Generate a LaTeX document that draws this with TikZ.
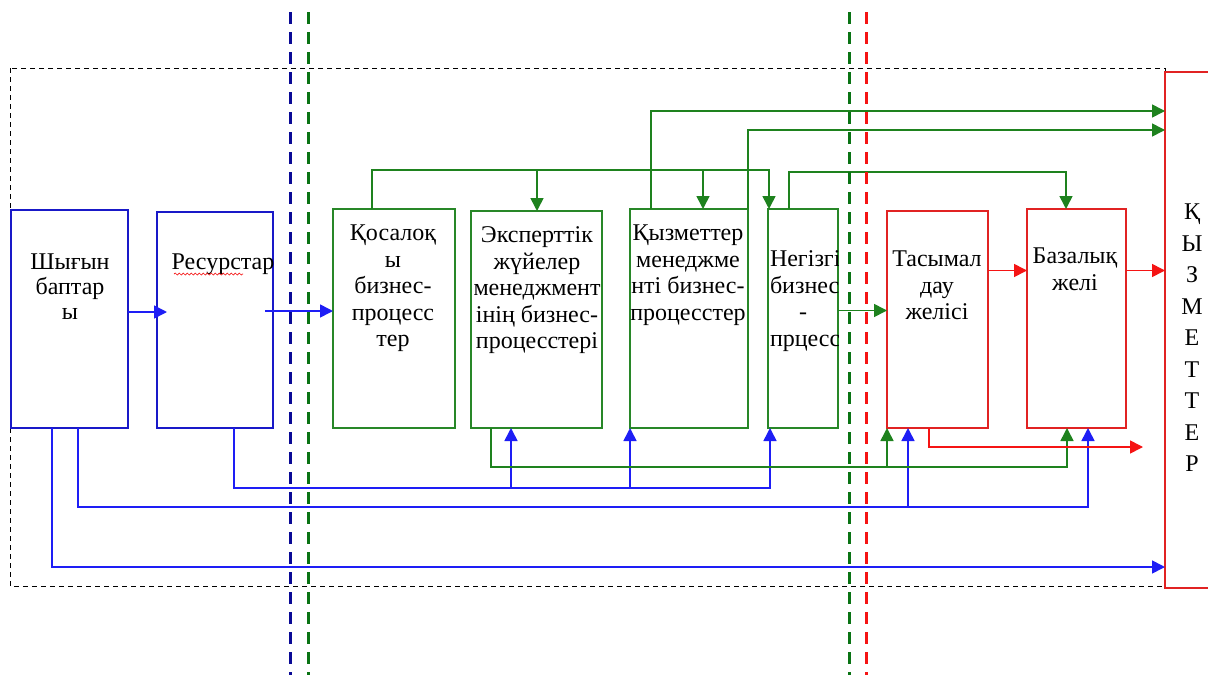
\documentclass[tikz,border=0pt]{standalone}
\usepackage{fontspec}
\setmainfont{Liberation Serif}
\usetikzlibrary{arrows.meta,decorations.pathmorphing,calc}
\definecolor{cBlueBox}{RGB}{25,25,200}
\definecolor{cBlue}{RGB}{30,30,245}
\definecolor{cGreenBox}{RGB}{40,135,40}
\definecolor{cGreen}{RGB}{30,130,30}
\definecolor{cRedBox}{RGB}{225,35,35}
\definecolor{cRed}{RGB}{245,20,20}
\definecolor{cDBlue}{RGB}{10,10,150}
\definecolor{cDGreen}{RGB}{10,115,20}
\begin{document}
\begin{tikzpicture}[x=1pt,y=-1pt,
  box/.style={draw, line width=1.5pt, inner sep=0pt, outer sep=0pt, fill=white},
  bbox/.style={box, draw=cBlueBox},
  gbox/.style={box, draw=cGreenBox},
  rbox/.style={box, draw=cRedBox},
  txt/.style={inner sep=0pt, outer sep=0pt, align=center, anchor=north, font=\fontsize{24}{26.5}\selectfont},
  conn/.style={line width=1.6pt, -{Triangle[length=13pt,width=13pt]}},
  bl/.style={conn, draw=cBlue, color=cBlue},
  gl/.style={conn, draw=cGreen, color=cGreen},
  rl/.style={conn, draw=cRed, color=cRed},
  vdash/.style={line width=3pt, dash pattern=on 12pt off 8pt}
]
\useasboundingbox (0,0) rectangle (1208,675);
\fill[white] (0,0) rectangle (1208,675);

% outer dashed frame
\draw[black, line width=1pt, dash pattern=on 5pt off 4pt] (10,68) rectangle (1165,586);

% boxes
\node[bbox, minimum width=117pt, minimum height=218pt] (shy) at (69.5,319) {};
\node[bbox, minimum width=116pt, minimum height=216pt] (res) at (215,320) {};
\node[gbox, minimum width=122pt, minimum height=219pt] (kos) at (394,318.5) {};
\node[gbox, minimum width=131pt, minimum height=217pt] (exp) at (536.5,319.5) {};
\node[gbox, minimum width=118pt, minimum height=219pt] (kyz) at (689,318.5) {};
\node[gbox, minimum width=70pt, minimum height=219pt] (neg) at (803,318.5) {};
\node[rbox, minimum width=101pt, minimum height=217pt] (tas) at (937.5,319.5) {};
\node[rbox, minimum width=99pt, minimum height=219pt] (baz) at (1076.5,318.5) {};
\node[rbox, minimum width=50pt, minimum height=516pt] (srv) at (1190,330) {};

% texts
\node[txt, font=\fontsize{24}{25}\selectfont] (shyT) at (70,254) {Шығын\\баптар\\ы};
\node[txt] (resT) at (223,254) {Ресурстар};
\draw[cRed, line width=0.7pt, decorate, decoration={snake, segment length=4pt, amplitude=1pt}] (174,274) -- (243,274);
\node[txt] (kosT) at (393,225) {Қосалоқ\\ы\\бизнес-\\процесс\\тер};
\node[txt] (expT) at (537,227) {Эксперттік\\жүйелер\\менеджмент\\інің бизнес-\\процесстері};
\node[txt] (kyzT) at (688,225) {Қызметтер\\менеджме\\нті бизнес-\\процесстер};
\begin{scope}
\clip (neg.north west) rectangle (neg.south east);
\node[txt, align=left, anchor=north west] (negT) at (770,251) {Негізгі\\бизнес\\\hspace*{29pt}-\\прцесс};
\end{scope}
\node[txt] (tasT) at (937,251) {Тасымал\\дау\\желісі};
\node[txt] (bazT) at (1075,248) {Базалық\\желі};
\node[txt, font=\fontsize{24}{31.5}\selectfont] (srvT) at (1192,204) {Қ\\Ы\\З\\М\\Е\\Т\\Т\\Е\\Р};

% blue connectors
\draw[bl, shorten >=-10pt] ([yshift=7]shy.east) -- ([yshift=8]res.west);
\coordinate (b2s) at ([xshift=-8,yshift=9]res.east);
\draw[bl] (b2s) -- (b2s -| kos.west);
\draw[bl] ([xshift=41]shy.south west) |- ([yshift=21]srv.south west);
\draw[bl] ([xshift=67]shy.south west) -- ++(0,79) -| ([xshift=61]baz.south west);
\draw[bl] ([xshift=21]tas.south west) ++(0,79) -- ([xshift=21]tas.south west);
\draw[bl] ([xshift=77]res.south west) -- ++(0,60) -| ([xshift=2]neg.south west);
\draw[bl] ([xshift=40]exp.south west) ++(0,60) -- ([xshift=40]exp.south west);
\draw[bl] (kyz.south west) ++(0,60) -- (kyz.south west);

% green connectors
\draw[gl] ([xshift=20]exp.south west) -- ++(0,39) -| ([xshift=40]baz.south west);
\draw[gl] (tas.south west) ++(0,39) -- (tas.south west);
\draw[gl] ([xshift=39]kos.north west) -- ++(0,-39) -| ([xshift=1]neg.north west);
\draw[gl] ([xshift=66]exp.north west) ++(0,-41) -- ([xshift=66]exp.north west);
\draw[gl] ([xshift=73]kyz.north west) ++(0,-39) -- ([xshift=73]kyz.north west);
\draw[gl] ([xshift=21]neg.north west) -- ++(0,-37) -| ([xshift=39]baz.north west);
\draw[gl] ([xshift=21]kyz.north west) |- ([yshift=-39]srv.north west);
\draw[gl] (kyz.north east) |- ([yshift=-58]srv.north west);
\coordinate (g6s) at ([yshift=8]neg.east);
\draw[gl] (g6s) -- (g6s -| tas.west);

% red connectors
\coordinate (r1s) at ([yshift=49]tas.east);
\draw[rl] (r1s) -- (r1s -| baz.west);
\coordinate (r2s) at ([yshift=48]baz.east);
\draw[rl] (r2s) -- (r2s -| srv.west);
\coordinate (rEnd) at (1143,447);
\draw[rl] ([xshift=42]tas.south west) |- (rEnd);

% vertical dashed separators
\draw[vdash, cDBlue] (290,12) -- (290,675);
\draw[vdash, cDGreen] (308,12) -- (308,675);
\draw[vdash, cDGreen] (849,12) -- (849,675);
\draw[vdash, cRed] (866,12) -- (866,675);
\end{tikzpicture}
\end{document}
